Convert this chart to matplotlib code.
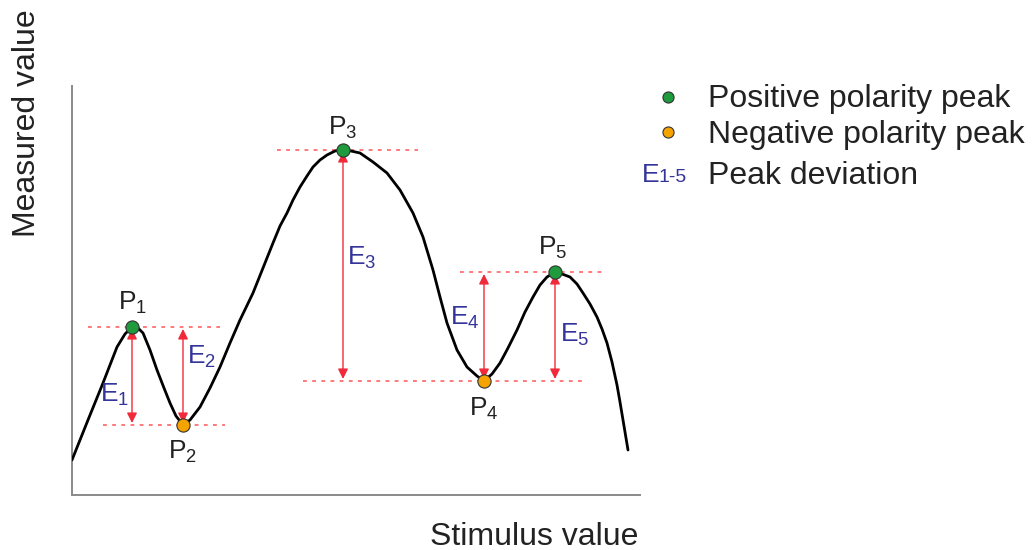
import matplotlib
matplotlib.use("Agg")
import matplotlib.pyplot as plt

plt.rcParams['font.family'] = ['Liberation Sans', 'DejaVu Sans']
plt.rcParams['mathtext.default'] = 'regular'

# curve (stimulus, measured)
curve_x = [0, 16, 31, 45, 53, 60, 66, 71, 78, 85, 92, 98, 104, 111,
           118, 128, 138, 148, 158, 168, 181, 191, 201, 208, 215, 221, 228, 235, 241, 248,
           255, 263, 271,
           279, 288, 301, 315, 328, 341, 351, 361, 368, 375, 385, 395, 405, 412,
           420, 428, 436, 445, 453, 461, 468, 475, 483,
           490, 498, 505, 511, 518, 525, 530, 535, 540, 545, 548, 551, 556]
curve_y = [35, 75, 112, 148, 161, 168, 167, 162, 145, 125, 107, 92, 79, 70,
           75, 88, 107, 128, 152, 175, 202, 227, 252, 269, 282, 295, 308, 319, 328, 335,
           340, 344, 345,
           344, 342, 333, 322, 305, 282, 258, 225, 198, 172, 145, 128, 119, 114,
           121, 132, 147, 165, 183, 198, 210, 218, 223,
           221, 218, 211, 202, 191, 178, 166, 152, 133, 110, 93, 75, 45]

# peaks P1..P5
peak_x = [60, 111, 271, 412, 483]
peak_y = [168, 70, 345, 114, 223]
peak_pos = [True, False, True, False, True]

# dashed level lines (x range) for each peak
level_x0 = [16, 31, 205, 231, 388]
level_x1 = [148, 153, 346, 513, 530]

# deviation arrows E1..E5: x, bottom, top
dev_x = [60, 111, 271, 412, 483]
dev_lo = [70, 70, 114, 114, 114]
dev_hi = [168, 168, 345, 223, 223]
dev_lab_x = [43, 130, 290, 393, 503]
dev_lab_y = [100, 138, 237, 177, 160]

plab_x = [61, 111, 271, 412, 481]
plab_y = [192, 43, 367, 86, 247]

green = '#1f9a3c'
orange = '#f5a300'
red = '#f02a3a'
blue = '#34349a'
txt = '#222222'

fig = plt.figure(figsize=(10.34, 5.5), dpi=100)
ax = fig.add_axes([72/1034, 55/550, 568/1034, 409/550])
ax.set_xlim(0, 568)
ax.set_ylim(0, 409)
for s in ['top', 'right']:
    ax.spines[s].set_visible(False)
for s in ['left', 'bottom']:
    ax.spines[s].set_color('#8a8a8a')
    ax.spines[s].set_linewidth(1.4)
ax.set_xticks([])
ax.set_yticks([])

for i in range(5):
    ax.plot([level_x0[i], level_x1[i]], [peak_y[i], peak_y[i]], color='#ff5555',
            lw=1.1, ls=(0, (2.5, 3.5)), zorder=1)

ax.plot(curve_x, curve_y, color='black', lw=2.0, zorder=3,
        solid_capstyle='round', solid_joinstyle='round')

for i in range(5):
    ax.annotate('', xy=(dev_x[i], dev_hi[i] - 2), xytext=(dev_x[i], dev_lo[i] + 2),
                arrowprops=dict(arrowstyle='<|-|>', color=red, lw=1.0,
                                mutation_scale=15, shrinkA=0, shrinkB=0), zorder=2)
    ax.text(dev_lab_x[i], dev_lab_y[i], 'E$_{%d}$' % (i + 1), color=blue,
            fontsize=19, ha='center', va='center')

for i in range(5):
    c = green if peak_pos[i] else orange
    ax.plot(peak_x[i], peak_y[i], 'o', color=c, mec='#333333', mew=0.8,
            ms=9.5, zorder=5, clip_on=False)
    ax.text(plab_x[i], plab_y[i], 'P$_{%d}$' % (i + 1), color=txt,
            fontsize=19, ha='center', va='center')

# legend drawn by hand to the right of the axes
ax.plot(596, 398, 'o', color=green, mec='#333333', mew=0.8, ms=8, clip_on=False)
ax.plot(596, 363, 'o', color=orange, mec='#333333', mew=0.8, ms=8, clip_on=False)
ax.text(570, 320, 'E', color=blue, fontsize=19, ha='left', va='center')
ax.text(587, 317, '1-5', color=blue, fontsize=14, ha='left', va='center')
ax.text(636, 396, 'Positive polarity peak', fontsize=23, ha='left', va='center', color=txt)
ax.text(636, 360, 'Negative polarity peak', fontsize=23, ha='left', va='center', color=txt)
ax.text(636, 319, 'Peak deviation', fontsize=23, ha='left', va='center', color=txt)

fig.text(27/1034, 1 - 123/550, 'Measured value', rotation=90, fontsize=23,
         ha='center', va='center', color=txt)
fig.text(534/1034, 1 - 537/550, 'Stimulus value', fontsize=23,
         ha='center', va='center', color=txt)

fig.savefig('out.png', dpi=100)
